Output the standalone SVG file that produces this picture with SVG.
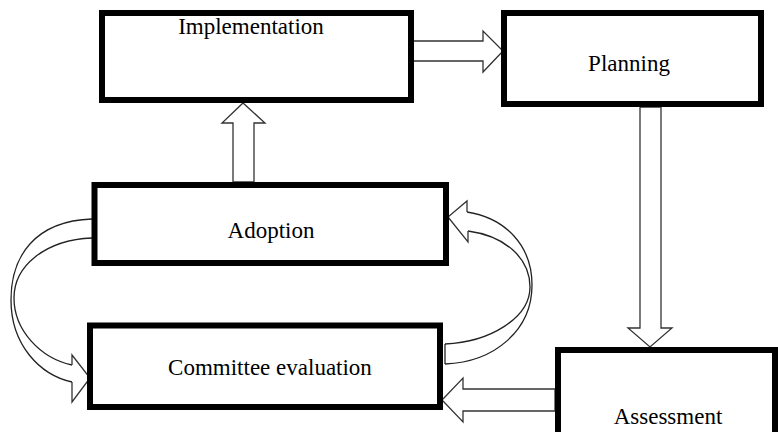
<svg xmlns="http://www.w3.org/2000/svg" width="778" height="432" viewBox="0 0 778 432">
<style>
.box{fill:#fff;stroke:#000;stroke-width:6}
.lbl{font-family:"Liberation Serif","Times New Roman",serif;font-size:23px;fill:#000;text-anchor:middle;dominant-baseline:central}
.arr{fill:#fff;stroke:#333;stroke-width:1.3;stroke-linejoin:miter}
.crv{fill:none;stroke:#222;stroke-width:1.3}
</style>
<rect width="778" height="432" fill="#fff"/>
<g id="connectors">
<path class="arr" d="M413,41 L483,41 L483,31 L503,51 L483,72 L483,61 L413,61 Z"/>
<path class="arr" d="M640,107 L640,328 L628,328 L650,347 L672,328 L661,328 L661,107 Z"/>
<path class="arr" d="M233,182 L233,123 L222,123 L243,103 L265,123 L254,123 L254,182 Z"/>
<path class="arr" d="M555,389 L463,389 L463,378 L442,400 L463,422 L463,411 L555,411 Z"/>
<path class="crv" d="M92,219 C35,221 11,256 11,300 C11,345 40,375 72,382"/>
<path class="crv" d="M92,238 C45,240 14,266 14,298 C14,330 40,358 72,365"/>
<path class="arr" d="M72,365 L72,355 L90,378 L72,402 L72,382"/>
<path class="crv" d="M445,364 C495,362 532,330 532,285 C532,245 505,218 467,212"/>
<path class="crv" d="M445,344 C490,342 530,318 530,287 C530,258 505,236 468,231"/>
<path class="arr" d="M467,212 L467,201 L448,217 L468,242 L468,231"/>
<path class="crv" d="M445,344 L445,364"/>
</g>
<g id="implementation"><rect class="box" x="102" y="13" width="309" height="87"/><text class="lbl" x="251" y="26">Implementation</text></g>
<g id="planning"><rect class="box" x="504" y="13" width="257" height="91"/><text class="lbl" x="629" y="63">Planning</text></g>
<g id="adoption"><rect class="box" x="94.5" y="185" width="351.5" height="78"/><text class="lbl" x="271" y="230">Adoption</text></g>
<g id="committee"><rect class="box" x="90" y="325.5" width="350" height="81.5"/><text class="lbl" x="270" y="367">Committee evaluation</text></g>
<g id="assessment"><rect class="box" x="558" y="350" width="217" height="90"/><text class="lbl" x="668" y="416">Assessment</text></g>
</svg>
